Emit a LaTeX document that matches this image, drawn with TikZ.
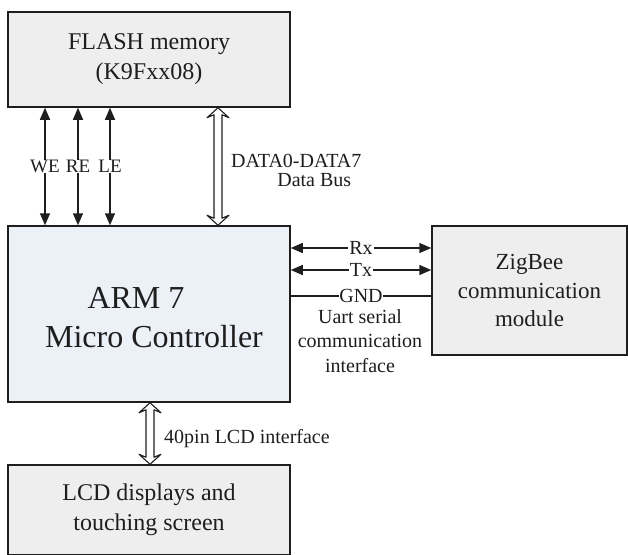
\documentclass[tikz,border=0pt]{standalone}
\usepackage{fontspec}
\setmainfont{LiberationSerif}[Extension=.ttf,UprightFont=*-Regular,BoldFont=*-Bold,ItalicFont=*-Italic]
\usetikzlibrary{arrows.meta,calc}
\definecolor{boxgray}{RGB}{238,238,238}
\definecolor{armblue}{RGB}{236,240,247}
\definecolor{ink}{RGB}{30,30,30}
\begin{document}
\begin{tikzpicture}[x=1pt,y=-1pt,
  blk/.style={draw=ink,line width=1.5pt,fill=boxgray,inner sep=0pt,minimum width=282pt,align=center,text=ink,font=\fontsize{24}{30}\selectfont},
  sig/.style={draw=ink,line width=1.5pt,{Triangle[length=12pt,width=10pt]}-{Triangle[length=12pt,width=10pt]}},
  bus/.style={draw=ink,line width=1.1pt,fill=white,line join=round},
  lbl/.style={fill=white,inner sep=1pt,text=ink,font=\fontsize{20}{24}\selectfont}]
\useasboundingbox (0,0) rectangle (628,554);
\fill[white] (0,0) rectangle (628,554);
% blocks
\node[blk,minimum height=95pt] (flash) at (149,59.5) {FLASH memory\\(K9Fxx08)};
\node[blk,fill=armblue,minimum height=176pt] (arm) at (149,314) {};
\node[text=ink,font=\fontsize{32}{36}\selectfont] (armA) at (136,298) {ARM 7};
\node[text=ink,font=\fontsize{32}{36}\selectfont] (armB) at (154,337) {Micro Controller};
\node[blk,minimum width=195pt,minimum height=129pt,font=\fontsize{23}{28.5}\selectfont] (zig) at (529.5,290.5) {ZigBee\\communication\\module};
\node[blk,minimum height=90pt] (lcd) at (149,510) {LCD displays and\\touching screen};
% x positions
\coordinate (we) at (45,0);
\coordinate (re) at (78,0);
\coordinate (le) at (110,0);
\coordinate (db) at (218,0);
\coordinate (lb) at (150,0);
\coordinate (rx) at (0,248);
\coordinate (tx) at (0,270);
\coordinate (gnd) at (0,296);
% control signals
\draw[sig] (we |- flash.south) -- node[lbl,font=\fontsize{19}{22}\selectfont,inner sep=0.5pt] (weL) {WE} (we |- arm.north);
\draw[sig] (re |- flash.south) -- node[lbl,font=\fontsize{19}{22}\selectfont,inner sep=0.5pt] (reL) {RE} (re |- arm.north);
\draw[sig] (le |- flash.south) -- node[lbl,font=\fontsize{19}{22}\selectfont,inner sep=0.5pt] (leL) {LE} (le |- arm.north);
% data bus (hollow double arrow)
\coordinate (dbT) at (db |- flash.south);
\coordinate (dbB) at (db |- arm.north);
\draw[bus] (dbT) -- ($(dbT)+(11,10)$) -- ($(dbT)+(4,7)$) -- ($(dbB)+(4,-7)$) -- ($(dbB)+(11,-10)$) -- (dbB)
  -- ($(dbB)+(-11,-10)$) -- ($(dbB)+(-4,-7)$) -- ($(dbT)+(-4,7)$) -- ($(dbT)+(-11,10)$) -- cycle;
\node[text=ink,font=\fontsize{20}{19}\selectfont,align=center,anchor=north west,inner sep=0pt] (dbL) at (231,154) {DATA0-DATA7\\\hspace*{1.8em}Data Bus};
% uart
\draw[sig] (arm.east |- rx) -- node[lbl] (rxL) {Rx} (zig.west |- rx);
\draw[sig] (arm.east |- tx) -- node[lbl] (txL) {Tx} (zig.west |- tx);
\draw[draw=ink,line width=1.5pt] (arm.east |- gnd) -- node[lbl,inner sep=0.5pt] (gndL) {GND} (zig.west |- gnd);
\node[text=ink,font=\fontsize{20}{24.5}\selectfont,align=center,anchor=north,inner sep=0pt] (uart) at (360,309) {Uart serial\\communication\\interface};
% lcd bus
\coordinate (lbT) at (lb |- arm.south);
\coordinate (lbB) at (lb |- lcd.north);
\draw[bus] (lbT) -- ($(lbT)+(11,10)$) -- ($(lbT)+(4,7)$) -- ($(lbB)+(4,-7)$) -- ($(lbB)+(11,-10)$) -- (lbB)
  -- ($(lbB)+(-11,-10)$) -- ($(lbB)+(-4,-7)$) -- ($(lbT)+(-4,7)$) -- ($(lbT)+(-11,10)$) -- cycle;
\node[text=ink,font=\fontsize{20}{24}\selectfont,anchor=west,inner sep=0pt] (lcdL) at (164,439) {40pin LCD interface};
\end{tikzpicture}
\end{document}
